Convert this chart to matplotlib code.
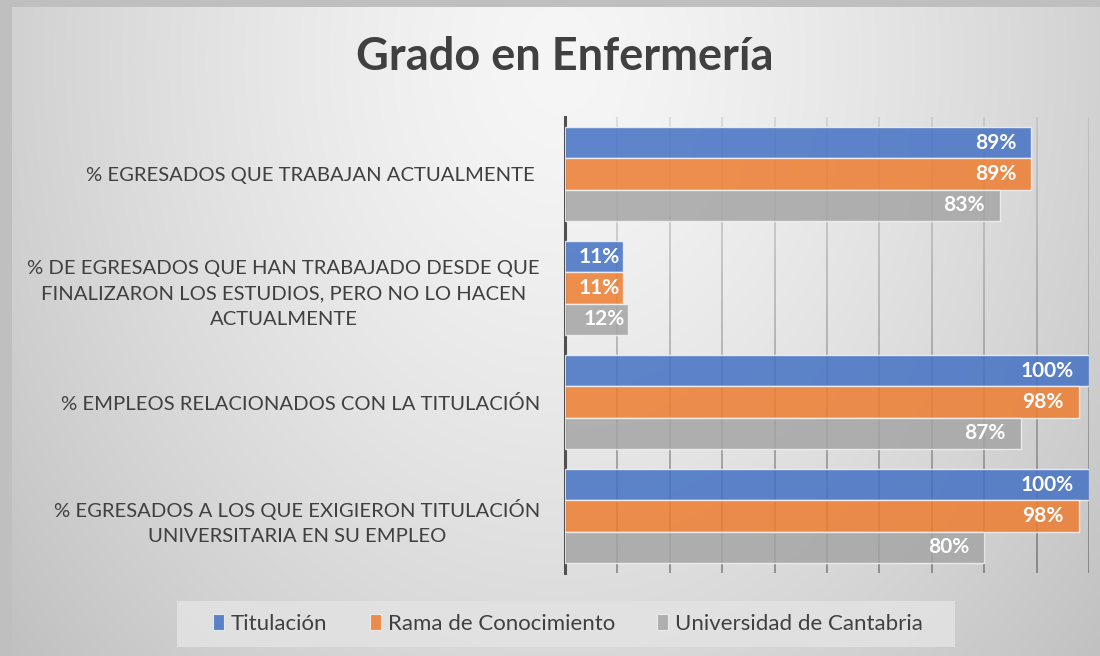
import matplotlib
matplotlib.use("Agg")
import matplotlib.pyplot as plt
import numpy as np
from matplotlib.collections import LineCollection
from matplotlib.patches import Patch, Rectangle

plt.rcParams["font.family"] = ["Lato", "DejaVu Sans"]

TITLE = "Grado en Enfermería"
CATEGORIES = [
    "% EGRESADOS QUE TRABAJAN ACTUALMENTE ",
    "% DE EGRESADOS QUE HAN TRABAJADO DESDE QUE\nFINALIZARON LOS ESTUDIOS, PERO NO LO HACEN\nACTUALMENTE",
    "% EMPLEOS RELACIONADOS CON LA TITULACIÓN",
    "% EGRESADOS A LOS QUE EXIGIERON TITULACIÓN\nUNIVERSITARIA EN SU EMPLEO",
]
SERIES = ["Titulación", "Rama de Conocimiento", "Universidad de Cantabria"]
TITULACION = [89, 11, 100, 100]
RAMA = [89, 11, 98, 98]
UNIVERSIDAD = [83, 12, 87, 80]
COLORS = ["#4472C4", "#ED7D31", "#A5A5A5"]
TEXT_COLOR = "#404040"

W, H = 1100, 656
fig = plt.figure(figsize=(W / 100, H / 100), dpi=100)

# soft radial background with a darker frame on the top/left edges
bg = fig.add_axes([0, 0, 1, 1], zorder=-10)
xx, yy = np.meshgrid(np.arange(W), np.arange(H))
r = np.sqrt(((xx - 560) / 560.0) ** 2 + ((yy - 60) / 720.0) ** 2)
shade = np.clip(246 - 38 * r ** 1.4, 190, 250)
shade[:7, :] = 191
shade[:, :12] = 191
img = np.dstack([shade, shade, shade]) / 255.0
bg.imshow(img, extent=[0, W, H, 0], aspect="auto", interpolation="bilinear")
bg.set_xlim(0, W)
bg.set_ylim(H, 0)
bg.axis("off")

# legend box behind the legend entries
bg.add_patch(Rectangle((177, 601), 778, 46, facecolor="#e2e2e2", edgecolor="none", alpha=0.9))

ax = fig.add_axes([565 / W, 1 - 573 / H, 524 / W, 456 / H])
ax.patch.set_alpha(0)

n = len(CATEGORIES)
y = np.arange(n)
bar_h = 0.276
for i, (vals, color, name) in enumerate(zip([TITULACION, RAMA, UNIVERSIDAD], COLORS, SERIES)):
    pos = y + (i - 1) * bar_h
    ax.barh(pos, vals, height=bar_h, color=color, alpha=0.85,
            edgecolor="#f2f2f2", linewidth=1.0, zorder=3, label=name)
    for p, v in zip(pos, vals):
        # short bars leave almost no margin so the label still fits inside
        pad = -11 if v >= 20 else -2
        ax.annotate(f"{v}%", xy=(v, p), xytext=(pad, 0), textcoords="offset points",
                    ha="right", va="center", color="white", fontsize=15,
                    fontweight="bold", zorder=4)

ax.set_xlim(0, 100)
ax.set_ylim(n - 0.5, -0.5)

# vertical gridlines that darken towards the bottom
ys = np.linspace(-0.5, n - 0.5, 60)
segs, cols = [], []
for gx in np.arange(10, 101, 10):
    for k in range(len(ys) - 1):
        segs.append([(gx, ys[k]), (gx, ys[k + 1])])
        t = (ys[k] + 0.5) / n
        a = 0.12 + 0.36 * t
        cols.append((0.25, 0.25, 0.25, a))
ax.add_collection(LineCollection(segs, colors=cols, linewidths=1.4, zorder=1))

ax.set_xticks([])
ax.set_yticks(y, CATEGORIES)
ax.tick_params(axis="y", length=0, pad=18, labelsize=14.6, labelcolor=TEXT_COLOR)
for lbl in ax.get_yticklabels():
    lbl.set_multialignment("center")
    lbl.set_linespacing(1.6)
for s in ["top", "right", "bottom"]:
    ax.spines[s].set_visible(False)
ax.spines["left"].set_color("#505050")
ax.spines["left"].set_linewidth(2.2)

fig.text(565 / W, 1 - 57 / H, TITLE, ha="center", va="center",
         fontsize=32.5, fontweight="bold", color=TEXT_COLOR)

handles = [Patch(facecolor=c, alpha=0.85, edgecolor="#f2f2f2", linewidth=0.8) for c in COLORS]
leg = fig.legend(handles, SERIES, loc="center", bbox_to_anchor=(568 / W, 1 - 624 / H),
                 ncol=3, frameon=False, fontsize=16, handlelength=0.5, handleheight=0.7,
                 handletextpad=0.3, columnspacing=1.9, labelcolor=TEXT_COLOR)

fig.savefig("out.png", dpi=100)
